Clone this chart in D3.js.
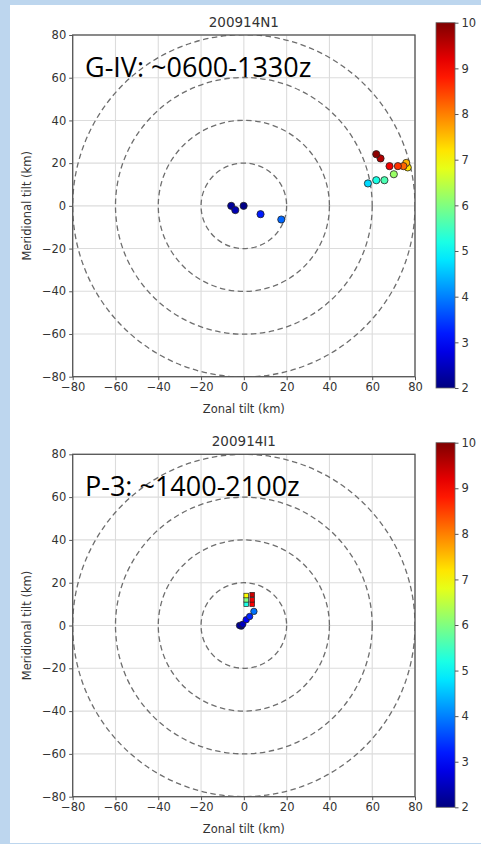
<!DOCTYPE html>
<html>
<head>
<meta charset="utf-8">
<script src="https://cdn.jsdelivr.net/npm/d3@7"></script>
<style>
  html, body { margin: 0; padding: 0; background: #bdd6ee; }
  svg { display: block; }
</style>
</head>
<body>
<svg id="chart" width="481" height="844"></svg>
<script>
// ---------- DATA ----------
const axisTicks = [-80, -60, -40, -20, 0, 20, 40, 60, 80];
const ringRadii = [20, 40, 60, 80];
const colorTicks = [2, 3, 4, 5, 6, 7, 8, 9, 10];

const titles = ["200914N1", "200914I1"];
const notes = ["G-IV: ~0600-1330z", "P-3: ~1400-2100z"];

// Panel 1 (G-IV) – circles
const gZonal = [-5.9, -4.0, -0.1, 7.8, 17.5, 58.0, 61.9, 65.7, 70.1, 76.6, 75.9, 74.6, 72.0, 68.1, 63.9, 61.9];
const gMerid = [0.0, -2.0, 0.0, -3.9, -6.4, 10.5, 12.0, 12.0, 14.8, 18.0, 20.1, 18.6, 18.6, 18.6, 22.2, 24.2];
const gValue = [2.2, 2.4, 2.05, 3.2, 3.8, 4.7, 5.2, 5.6, 6.2, 7.2, 7.6, 8.2, 8.6, 9.1, 9.6, 9.9];

// Panel 2 (P-3) – circles (low levels) and squares (upper levels)
const pZonal = [-1.2, -2.0, -0.5, 1.1, 2.7, 4.7];
const pMerid = [-0.3, 0.0, 0.6, 2.7, 4.2, 6.6];
const pValue = [2.1, 2.2, 2.5, 3.0, 3.3, 3.9];
const sZonal = [1.1, 1.1, 1.1, 3.9, 3.9, 3.9];
const sMerid = [10.0, 12.0, 14.0, 10.0, 12.0, 14.4];
const sValue = [5.2, 6.0, 7.0, 9.0, 9.1, 9.4];

// ---------- HELPERS ----------
function jet(t) {
  const c = v => Math.max(0, Math.min(1, v));
  const r = c(1.5 - Math.abs(4 * t - 3));
  const g = c(1.5 - Math.abs(4 * t - 2));
  const b = c(1.5 - Math.abs(4 * t - 1));
  return d3.rgb(r * 255, g * 255, b * 255).formatHex();
}
const cNorm = d3.scaleLinear().domain([2, 10]).range([0, 1]).clamp(true);
const colorOf = v => jet(cNorm(v));

const svg = d3.select("#chart");
const font = "DejaVu Sans, sans-serif";
const textCol = "#333";

// slide background + white content area
svg.append("rect").attr("x", 0).attr("y", 0).attr("width", 481).attr("height", 844).attr("fill", "#bdd6ee");
svg.append("rect").attr("x", 10).attr("y", 5).attr("width", 471).attr("height", 838).attr("fill", "#ffffff");

// gradient for colorbars
const defs = svg.append("defs");
const grad = defs.append("linearGradient").attr("id", "jetgrad")
  .attr("x1", 0).attr("y1", 1).attr("x2", 0).attr("y2", 0);
d3.range(0, 1.0001, 0.05).forEach(t => {
  grad.append("stop").attr("offset", t).attr("stop-color", jet(t));
});

function drawPanel(p) {
  const x = d3.scaleLinear().domain([-80, 80]).range([p.left, p.right]);
  const y = d3.scaleLinear().domain([-80, 80]).range([p.bottom, p.top]);
  const g = svg.append("g");
  const clipId = "clip" + p.idx;
  defs.append("clipPath").attr("id", clipId).append("rect")
    .attr("x", p.left).attr("y", p.top).attr("width", p.right - p.left).attr("height", p.bottom - p.top);

  // grid
  g.append("g").selectAll("line.v").data(axisTicks).join("line")
    .attr("x1", d => x(d)).attr("x2", d => x(d)).attr("y1", p.top).attr("y2", p.bottom)
    .attr("stroke", "#dcdcdc").attr("stroke-width", 1.1);
  g.append("g").selectAll("line.h").data(axisTicks).join("line")
    .attr("y1", d => y(d)).attr("y2", d => y(d)).attr("x1", p.left).attr("x2", p.right)
    .attr("stroke", "#dcdcdc").attr("stroke-width", 1.1);

  // dashed rings
  g.append("g").attr("clip-path", `url(#${clipId})`).selectAll("circle").data(ringRadii).join("circle")
    .attr("cx", x(0)).attr("cy", y(0)).attr("r", d => x(d) - x(0))
    .attr("fill", "none").attr("stroke", "#6e6e6e").attr("stroke-width", 1.3)
    .attr("stroke-dasharray", "5.5,3.5");

  // note text
  g.append("text").attr("x", 85).attr("y", p.noteY)
    .attr("font-family", "Open Sans, sans-serif").attr("font-size", 27)
    .attr("fill", "#000").text(p.note);

  // points
  const pts = p.cx.map((d, i) => ({ x: d, y: p.cy[i], v: p.cv[i] }));
  g.append("g").selectAll("circle").data(pts).join("circle")
    .attr("cx", d => x(d.x)).attr("cy", d => y(d.y)).attr("r", p.r)
    .attr("fill", d => colorOf(d.v)).attr("stroke", "#222").attr("stroke-width", 0.8);
  if (p.sx) {
    const sq = p.sx.map((d, i) => ({ x: d, y: p.sy[i], v: p.sv[i] }));
    const s = 4.6;
    g.append("g").selectAll("rect").data(sq).join("rect")
      .attr("x", d => x(d.x) - s / 2).attr("y", d => y(d.y) - s / 2)
      .attr("width", s).attr("height", s)
      .attr("fill", d => colorOf(d.v)).attr("stroke", "#222").attr("stroke-width", 0.7);
  }

  // frame
  g.append("rect").attr("x", p.left).attr("y", p.top)
    .attr("width", p.right - p.left).attr("height", p.bottom - p.top)
    .attr("fill", "none").attr("stroke", "#555").attr("stroke-width", 1.3);

  // axes
  const xAxis = d3.axisBottom(x).tickValues(axisTicks).tickSize(3.5).tickPadding(3);
  const yAxis = d3.axisLeft(y).tickValues(axisTicks).tickSize(3.5).tickPadding(3);
  const gx = g.append("g").attr("transform", `translate(0,${p.bottom})`).call(xAxis);
  const gy = g.append("g").attr("transform", `translate(${p.left},0)`).call(yAxis);
  [gx, gy].forEach(a => {
    a.select(".domain").remove();
    a.selectAll("line").attr("stroke", "#555");
    a.selectAll("text").attr("font-family", font).attr("font-size", 11.5).attr("fill", textCol);
  });

  // labels
  g.append("text").attr("x", (p.left + p.right) / 2).attr("y", p.bottom + 36)
    .attr("text-anchor", "middle").attr("font-family", font).attr("font-size", 11.5)
    .attr("fill", textCol).text("Zonal tilt (km)");
  g.append("text").attr("transform", `translate(31,${(p.top + p.bottom) / 2}) rotate(-90)`)
    .attr("text-anchor", "middle").attr("font-family", font).attr("font-size", 11.5)
    .attr("fill", textCol).text("Meridional tilt (km)");
  g.append("text").attr("x", (p.left + p.right) / 2).attr("y", p.top - 8)
    .attr("text-anchor", "middle").attr("font-family", font).attr("font-size", 13.5)
    .attr("fill", textCol).text(p.title);

  // colorbar
  const cb = d3.scaleLinear().domain([2, 10]).range([p.cbBottom, p.cbTop]);
  g.append("rect").attr("x", p.cbLeft).attr("y", p.cbTop).attr("width", p.cbWidth)
    .attr("height", p.cbBottom - p.cbTop).attr("fill", "url(#jetgrad)")
    .attr("stroke", "#666").attr("stroke-width", 0.8);
  const cAxis = d3.axisRight(cb).tickValues(colorTicks).tickSize(3.5).tickPadding(3).tickFormat(d3.format("d"));
  const gc = g.append("g").attr("transform", `translate(${p.cbLeft + p.cbWidth},0)`).call(cAxis);
  gc.select(".domain").remove();
  gc.selectAll("line").attr("stroke", "#555");
  gc.selectAll("text").attr("font-family", font).attr("font-size", 11.5).attr("fill", textCol);
}

drawPanel({
  idx: 1, left: 72.7, right: 415, top: 35, bottom: 376.7,
  title: titles[0], note: notes[0], noteY: 77,
  cx: gZonal, cy: gMerid, cv: gValue, r: 3.6,
  cbLeft: 436, cbWidth: 19, cbTop: 22.7, cbBottom: 388
});
drawPanel({
  idx: 2, left: 72.7, right: 415, top: 454.3, bottom: 796.7,
  title: titles[1], note: notes[1], noteY: 496,
  cx: pZonal, cy: pMerid, cv: pValue, r: 3.2,
  sx: sZonal, sy: sMerid, sv: sValue,
  cbLeft: 436, cbWidth: 19, cbTop: 442.7, cbBottom: 807.3
});
</script>
</body>
</html>
